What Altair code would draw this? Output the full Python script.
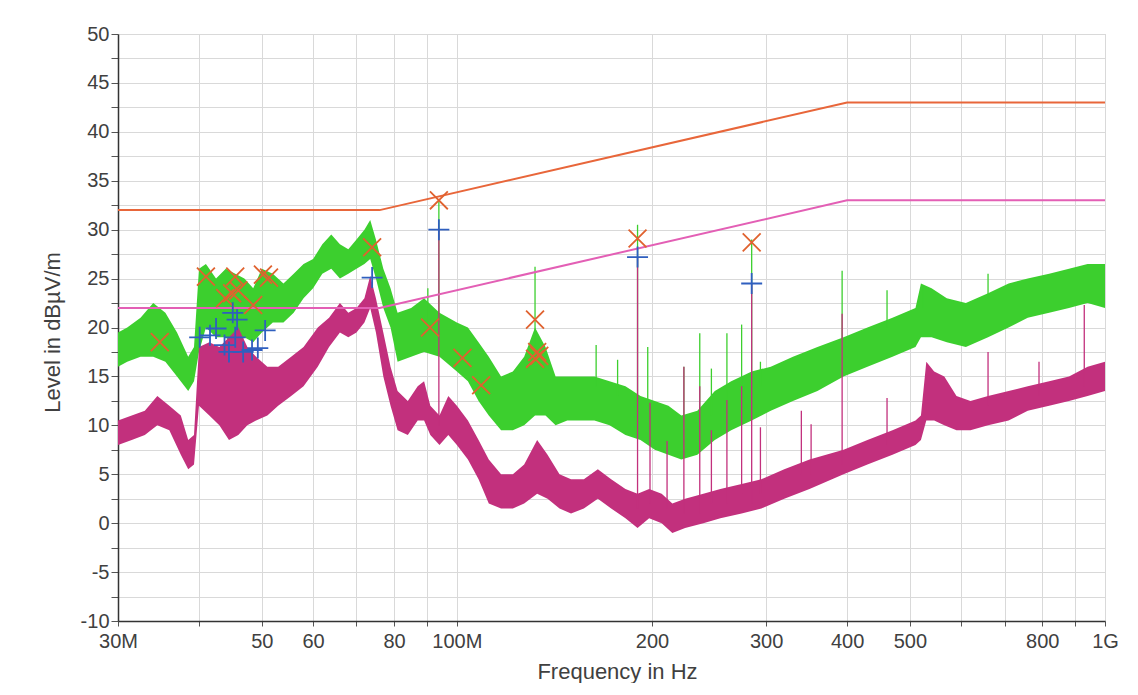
import altair as alt
import pandas as pd

# ---------------- data (frequency in MHz, level in dBµV/m) -------------
# Peak trace (green) envelope
pk_freq = [30, 31, 32.5, 34, 35.5, 37, 38.5, 39.3, 40, 41, 42.5, 44, 45.5, 47, 48.5, 50, 52, 54, 56,
           58, 60, 62, 64, 66, 68, 70, 72, 73.5, 75, 77, 79, 81, 85, 89, 94, 100, 104, 108, 112, 117,
           122, 127, 132, 137, 142, 148, 155, 163, 172, 182, 192, 202, 212, 222, 235, 250, 265, 285,
           305, 330, 360, 395, 430, 470, 510, 520, 540, 570, 610, 660, 710, 760, 820, 880, 940, 1000]
pk_lo = [16, 16.5, 17, 17, 16.5, 15, 13.5, 14.5, 17.5, 20, 19, 19, 18, 19, 18.5, 19.5, 20.5, 20.5, 21.5,
         23, 24, 25.5, 26, 25, 25.5, 26, 26.5, 27, 25, 22, 20, 16.5, 17, 17.5, 17, 15.5, 14.5, 12.5, 11, 9.5,
         9.5, 10, 11, 11, 10, 10.5, 10.5, 10.5, 10, 9, 8.5, 7.5, 7, 6.5, 7, 8.5, 9.5, 10.5,
         11.5, 12.5, 13.5, 15, 16, 17, 18, 19, 19, 18.5, 18, 19, 20, 21, 21.5, 22, 22.5, 22]
pk_hi = [19.5, 20, 21, 22.5, 21.5, 19.5, 17, 18, 26, 26.5, 25, 26, 25.5, 25, 24, 26, 25.5, 24.5, 25.5,
         26.5, 27, 28.5, 29.5, 28.5, 28, 29, 30, 31, 29, 26, 24, 21.5, 22, 23, 21.5, 20.5, 20, 18.5, 17, 15,
         15.5, 17, 20, 18, 15, 15, 15, 15, 14.5, 14, 13, 12.5, 12, 11, 11.5, 13.5, 14.5, 15.5,
         16, 17, 18, 19, 20, 21, 22, 24.5, 24, 23, 22.5, 23.5, 24.5, 25, 25.5, 26, 26.5, 26.5]

# Average trace (magenta) envelope
av_freq = [30, 31.5, 33, 34.5, 36, 37.5, 38.5, 39.3, 40, 41.5, 43, 44.5, 46, 47.5, 49, 51, 53, 55.5, 58,
           61, 63.5, 66, 68, 70, 72, 73.5, 75, 77, 79, 81, 84, 87, 89, 91, 94, 97, 100, 104, 108, 112,
           117, 122, 127, 133, 138, 144, 150, 157, 165, 173, 182, 190, 198, 207, 215, 225, 240, 255,
           275, 295, 320, 350, 395, 430, 470, 510, 520, 530, 545, 565, 590, 620, 660, 710, 760, 820,
           880, 940, 1000]
av_lo = [8, 8.5, 9, 10, 9.5, 7, 5.5, 6, 12, 11, 10, 8.5, 9, 10, 10.5, 11, 12, 13, 14,
         16, 18, 19.5, 19, 19.5, 20.5, 22, 19.5, 15, 12, 9.5, 9, 10.5, 10.5, 9, 8, 9, 8, 6.5, 4.5, 2,
         1.5, 1.5, 2, 3, 2.5, 1.5, 1, 1.5, 2.5, 1.5, 0.5, -0.5, 0.5, 0, -1, -0.5, 0, 0.5,
         1, 1.5, 2.5, 3.5, 5, 6, 7, 8, 8.5, 10.5, 10.5, 10, 9.5, 9.5, 10, 10.5, 11.5, 12,
         12.5, 13, 13.5]
av_hi = [10.5, 11, 11.5, 13, 12, 11, 8.5, 9, 18, 18.5, 18, 19, 20, 18, 17, 16, 16, 17, 18,
         20, 21, 22.5, 21.5, 22, 23, 25.3, 23, 19.5, 16, 13.5, 12.5, 14, 14.5, 12, 11, 13, 12, 10.5, 8.5, 6.5,
         5, 5, 6, 8.5, 7, 5, 4.5, 4.5, 5.5, 4.5, 3.5, 3, 3.5, 3, 2, 2.5, 3, 3.5,
         4, 4.5, 5.5, 6.5, 7.5, 8.5, 9.5, 10.5, 11, 16.5, 15.5, 15, 13, 12.5, 13, 13.5, 14, 14.5,
         15, 16, 16.5]

# Narrow spikes of the peak trace
pk_spike_freq = [90.2, 93.8, 132, 164, 177, 190, 197, 224, 237, 247, 261, 275, 285, 294, 393, 461, 524, 660]
pk_spike_top = [24.0, 33.0, 26.2, 18.2, 16.7, 30.5, 18.0, 16.0, 19.4, 15.8, 19.4, 20.3, 29.0, 16.5, 25.8, 23.8, 24.2, 25.5]
pk_spike_base = [20, 20, 18, 14, 13, 12, 12, 10.5, 11, 11, 12, 13, 14, 14, 18, 20, 22, 23]

# Narrow spikes of the average trace
av_spike_freq = [93.8, 190, 198.6, 211, 224, 237, 247, 261, 275, 285, 294, 340, 352, 393, 461, 660, 791, 929]
av_spike_top = [30.0, 27.2, 12.3, 8.4, 16.0, 14.0, 9.5, 12.6, 14.0, 24.5, 9.8, 11.5, 10.1, 21.4, 12.8, 17.5, 16.5, 22.3]
av_spike_base = [10, 1.5, 2, 1.5, 1, 1, 2, 2, 3, 2, 3, 5, 5, 6, 8, 12, 13, 14]

# Limit lines
lim_freq = [30, 76, 400, 1000]
lim_peak = [32, 32, 43, 43]
lim_avg = [22, 22, 33, 33]

# Peak markers (X) and average markers (+)
xm_freq = [34.8, 41.0, 43.9, 45.0, 45.5, 46.0, 48.5, 50.2, 51.3, 74.0, 90.9, 93.8, 102, 109, 132, 132, 133, 134, 190, 285]
xm_level = [18.5, 25.2, 23.0, 23.5, 25.2, 23.8, 22.3, 25.4, 25.1, 28.2, 20.0, 33.0, 16.9, 14.1, 20.8, 16.8, 17.5, 17.1, 29.1, 28.7]
pm_freq = [40.1, 41.6, 42.5, 43.8, 44.5, 45.1, 45.8, 45.5, 46.8, 48.3, 49.3, 50.6, 74.0, 93.8, 190, 285]
pm_level = [19.0, 19.2, 19.9, 18.2, 17.5, 21.5, 20.8, 19.0, 17.5, 17.7, 17.9, 19.7, 25.1, 30.0, 27.2, 24.5]

x_ticks = [30, 40, 50, 60, 70, 80, 90, 100, 200, 300, 400, 500, 600, 700, 800, 900, 1000]
y_ticks = [v * 2.5 for v in range(-4, 21)]

# ---------------- tables ----------------
pk_df = pd.DataFrame({"f": pk_freq, "lo": pk_lo, "hi": pk_hi})
av_df = pd.DataFrame({"f": av_freq, "lo": av_lo, "hi": av_hi})
pks_df = pd.DataFrame({"f": pk_spike_freq, "lo": pk_spike_base, "hi": pk_spike_top})
avs_df = pd.DataFrame({"f": av_spike_freq, "lo": av_spike_base, "hi": av_spike_top})
lim_df = pd.DataFrame({"f": lim_freq * 2, "lo": lim_peak + lim_avg,
                       "s": ["peak"] * len(lim_freq) + ["avg"] * len(lim_freq)})
xm_df = pd.DataFrame({"f": xm_freq, "lo": xm_level})
pm_df = pd.DataFrame({"f": pm_freq, "lo": pm_level})

FONT = "Liberation Sans"
TXT = "#404040"
XSC = alt.Scale(type="log", domain=[30, 1000], nice=False)
YSC = alt.Scale(domain=[-10, 50], nice=False, zero=False)

x_label_expr = ("datum.value == 30 ? '30M' : datum.value == 100 ? '100M' : datum.value == 1000 ? '1G' : "
                "indexof([50, 60, 80, 200, 300, 400, 500, 800], datum.value) >= 0 ? toString(datum.value) : ''")

x_axis = alt.Axis(values=x_ticks, labelExpr=x_label_expr, title="Frequency in Hz",
                  labelFont=FONT, labelFontSize=20, labelColor=TXT, labelPadding=5,
                  labelOverlap=False, labelFlush=False,
                  titleFont=FONT, titleFontSize=22, titleFontWeight="normal", titleColor=TXT,
                  titleX=499, titleY=57, titleAlign="center", titleBaseline="alphabetic",
                  tickSize=5, tickColor="#555", domainColor="#333", domainWidth=1.5,
                  grid=True, gridColor="#d9d9d9", gridWidth=1)
y_axis = alt.Axis(values=y_ticks, labelExpr="datum.value % 5 == 0 ? toString(datum.value) : ''",
                  title="Level in dBµV/m",
                  labelFont=FONT, labelFontSize=20, labelColor=TXT, labelPadding=2,
                  labelOverlap=False, labelFlush=False,
                  titleFont=FONT, titleFontSize=22, titleFontWeight="normal", titleColor=TXT,
                  titleX=-66, titleY=298, titleAngle=-90, titleAlign="center", titleBaseline="middle",
                  tickSize=7, tickColor="#555", domainColor="#333", domainWidth=1.5,
                  grid=True, gridColor="#d9d9d9", gridWidth=1)

X = alt.X("f:Q", scale=XSC, axis=x_axis, title="Frequency in Hz")
Y = alt.Y("lo:Q", scale=YSC, axis=y_axis, title="Level in dBµV/m")

GREEN = "#3ccf2e"
MAG = "#c2307d"

green_band = alt.Chart(pk_df).mark_area(color=GREEN, opacity=1, clip=True).encode(
    x=X, y=Y, y2="hi:Q")
green_spikes = alt.Chart(pks_df).mark_rule(color=GREEN, strokeWidth=1.3, clip=True).encode(
    x=X, y=Y, y2="hi:Q")

mag_band = alt.Chart(av_df).mark_area(color=MAG, opacity=1, clip=True).encode(
    x=X, y=Y, y2="hi:Q")
mag_spikes = alt.Chart(avs_df).mark_rule(color=MAG, strokeWidth=1.3, clip=True).encode(
    x=X, y=Y, y2="hi:Q")

limits = alt.Chart(lim_df).mark_line(strokeWidth=2, clip=True).encode(
    x=X, y=Y,
    color=alt.Color("s:N", scale=alt.Scale(domain=["peak", "avg"], range=["#e8663a", "#e35fb5"]), legend=None),
    detail="s:N")

x_marks = alt.Chart(xm_df).mark_point(shape="M-1,-1L1,1M-1,1L1,-1", filled=False, size=320,
                                      strokeWidth=1.8, color="#e0622f", opacity=1).encode(x=X, y=Y)
plus_marks = alt.Chart(pm_df).mark_point(shape="M-1,0L1,0M0,-1L0,1", filled=False, size=440,
                                         strokeWidth=1.8, color="#2f5fbf", opacity=1).encode(x=X, y=Y)

chart = alt.layer(green_band, green_spikes, mag_band, mag_spikes, limits,
                  x_marks, plus_marks).properties(
    width=987, height=587,
    autosize=alt.AutoSizeParams(type="none"),
    padding={"left": 110, "top": 26, "right": 25, "bottom": 62},
    background="white",
).configure_view(stroke="#cccccc", strokeWidth=1)

chart.save("out.html", embed_options={"renderer": "svg", "actions": False})
